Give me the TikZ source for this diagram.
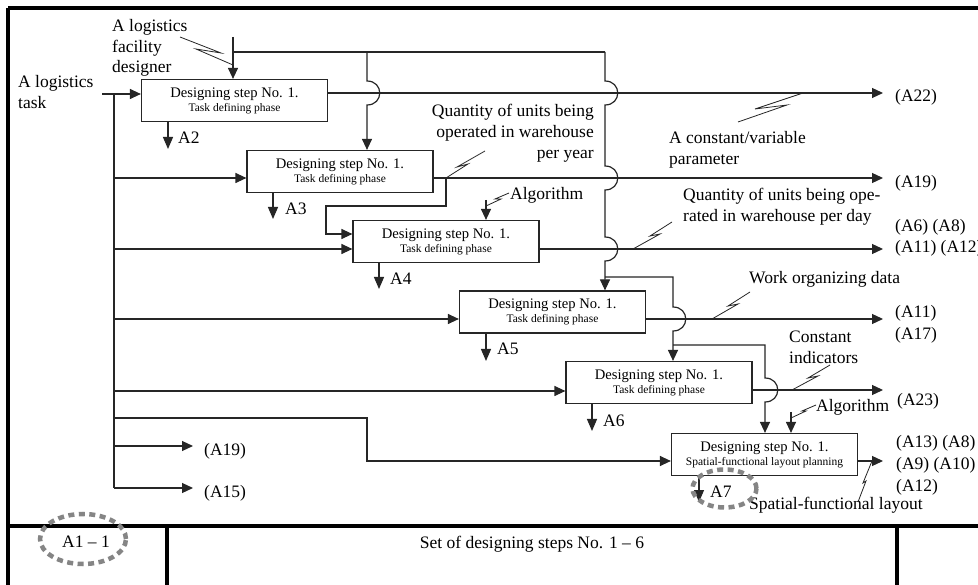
\documentclass[tikz,border=0pt]{standalone}
\usepackage{fontspec}
\setmainfont{Liberation Serif}
\usetikzlibrary{arrows.meta}
\newcommand\steptitle{\fontsize{14.6}{14}\selectfont}
\newcommand\stepsub{\fontsize{11.5}{14}\selectfont}
\begin{document}
\begin{tikzpicture}[x=1pt,y=-1pt,
  ln/.style={line width=1.2pt, draw=black!85},
  arr/.style={ln,-{Triangle[length=11pt,width=10pt]}},
  darr/.style={ln,-{Triangle[length=12pt,width=10pt]}},
  stepbox/.style={draw=black!85, line width=1.2pt, minimum width=186pt, minimum height=42pt, inner sep=0pt, align=center, font=\steptitle},
  lbl/.style={inner sep=0pt, font=\fontsize{17.5}{21}\selectfont, align=left},
  zig/.style={line width=0.8pt, draw=black!85},
  frm/.style={line width=3.4pt, draw=black},
  dashell/.style={draw=black!48, line width=4.5pt, dash pattern=on 6pt off 4.5pt}
]
\clip (0,0) rectangle (978,585);
\fill[white] (0,0) rectangle (978,585);

% frame
\draw[frm] (8,8) -- (995,8);
\draw[frm] (8,8) -- (8,600);
\draw[frm] (8,526) -- (995,526);
\draw[frm] (167,526) -- (167,600);
\draw[frm] (897,526) -- (897,600);

% boxes
\node[stepbox] (b1) at (234.5,100.5) {Designing step No. 1.\\\stepsub Task defining phase};
\node[stepbox] (b2) at (340,171.5) {Designing step No. 1.\\\stepsub Task defining phase};
\node[stepbox] (b3) at (446,241.5) {Designing step No. 1.\\\stepsub Task defining phase};
\node[stepbox] (b4) at (552.5,312) {Designing step No. 1.\\\stepsub Task defining phase};
\node[stepbox] (b5) at (659,382.5) {Designing step No. 1.\\\stepsub Task defining phase};
\node[stepbox] (b6) at (764.5,454.5) {Designing step No. 1.\\\stepsub Spatial-functional layout planning};

% labels
\node[lbl, anchor=west] (task) at (18,92) {A logistics\\task};
\node[lbl, anchor=west, font=\fontsize{17.5}{20.5}\selectfont] (des) at (112,48) {A logistics\\facility\\designer};
\node[lbl, anchor=east, align=right] (qy) at (594,133) {Quantity of units being\\operated in warehouse\\per year};
\node[lbl, anchor=west] (cv) at (669,149.5) {A constant/variable\\parameter};
\node[lbl, anchor=west] (alg1) at (510,195) {Algorithm};
\node[lbl, anchor=west] (qd) at (683,207) {Quantity of units being ope-\\rated in warehouse per day};
\node[lbl, anchor=west] (wo) at (749,279) {Work organizing data};
\node[lbl, anchor=west] (ci) at (789,347) {Constant\\indicators};
\node[lbl, anchor=west] (alg2) at (816,407) {Algorithm};
\node[lbl, anchor=west] (sfl) at (749,505) {Spatial-functional layout};

\node[lbl, anchor=west] (o1) at (895,97) {(A22)};
\node[lbl, anchor=west] (o2) at (895,183) {(A19)};
\node[lbl, anchor=west] (o3) at (895,238) {(A6) (A8)\\(A11) (A12)};
\node[lbl, anchor=west, font=\fontsize{17.5}{22}\selectfont] (o4) at (895,324) {(A11)\\(A17)};
\node[lbl, anchor=west] (o5) at (897,401) {(A23)};
\node[lbl, anchor=west, font=\fontsize{17.5}{22}\selectfont] (o6) at (896,465) {(A13) (A8)\\(A9) (A10)\\(A12)};
\node[lbl, anchor=west] (o7) at (204,451) {(A19)};
\node[lbl, anchor=west] (o8) at (204,493) {(A15)};

\node[lbl, anchor=west] (a2) at (178,138) {A2};
\node[lbl, anchor=west] (a3) at (285,209) {A3};
\node[lbl, anchor=west] (a4) at (390,279) {A4};
\node[lbl, anchor=west] (a5) at (497,349) {A5};
\node[lbl, anchor=west] (a6) at (603,421) {A6};
\node[lbl, anchor=west] (a7) at (710,492) {A7};

\node[lbl] (id) at (86,542) {A1 \textendash{} 1};
\node[lbl] (ttl) at (532,544) {Set of designing steps No. 1 \textendash{} 6};

% input bus
\coordinate (tin) at (102,94);
\coordinate (bustop) at (114,94);
\coordinate (busbot) at (114,488);
\coordinate (t2) at (114,178);
\coordinate (t3) at (114,249);
\coordinate (t4) at (114,319);
\coordinate (t5) at (114,391);
\coordinate (t6) at (114,418);
\coordinate (t7) at (114,446);
\draw[arr] (tin) -- (b1.west |- tin);
\draw[ln] (bustop) -- (busbot);
\draw[arr] (t2) -- (b2.west |- t2);
\draw[arr] (t3) -- (b3.west |- t3);
\draw[arr] (t4) -- (b4.west |- t4);
\draw[arr] (t5) -- (b5.west |- t5);
\coordinate (k1) at (367,418);
\coordinate (k2) at (367,461);
\draw[arr] (t6) -- (k1) -- (k2) -- (b6.west |- k2);
\draw[arr] (t7) -- ([xshift=-11pt]o7.west |- t7);
\draw[arr] (busbot) -- ([xshift=-11pt]o8.west |- busbot);

% controls
\coordinate (c0) at (233,37);
\coordinate (h0) at (233,52);
\coordinate (h1) at (367,52);
\coordinate (h2) at (605,52);
\draw[arr] (c0) -- (b1.north -| c0);
\draw[ln] (h0) -- (h2);
\draw[arr] (h1) -- (367,81) .. controls (384,81) and (384,105) .. (367,105) -- (b2.north -| h1);
\draw[arr] (h2) -- (605,81) .. controls (622,81) and (622,105) .. (605,105)
  -- (605,166) .. controls (622,166) and (622,190) .. (605,190)
  -- (605,237) .. controls (622,237) and (622,261) .. (605,261) -- (b4.north -| h2);
\coordinate (j1) at (605,277);
\coordinate (j2) at (673,277);
\draw[arr] (j1) -- (j2) -- (673,307) .. controls (690,307) and (690,331) .. (673,331) -- (b5.north -| j2);
\coordinate (j3) at (673,345);
\coordinate (j4) at (765,345);
\draw[arr] (j3) -- (j4) -- (765,378) .. controls (782,378) and (782,402) .. (765,402) -- (b6.north -| j4);
\coordinate (g1) at (486,200);
\draw[arr] (g1) -- (b3.north -| g1);
\coordinate (g2) at (791,412);
\draw[arr] (g2) -- (b6.north -| g2);

% outputs
\coordinate (r1) at (327,93);
\draw[arr] (b1.east |- r1) -- ([xshift=-12pt]o1.west |- r1);
\coordinate (r2) at (433,178);
\draw[arr] (b2.east |- r2) -- ([xshift=-12pt]o2.west |- r2);
\coordinate (s1) at (446,178);
\coordinate (s2) at (446,206);
\coordinate (s3) at (326,206);
\coordinate (s4) at (326,234);
\draw[arr] (s1) -- (s2) -- (s3) -- (s4) -- (b3.west |- s4);
\coordinate (r3) at (539,249);
\draw[arr] (b3.east |- r3) -- ([xshift=-12pt]o1.west |- r3);
\coordinate (r4) at (646,319);
\draw[arr] (b4.east |- r4) -- ([xshift=-12pt]o1.west |- r4);
\coordinate (r5) at (752,390);
\draw[arr] (b5.east |- r5) -- ([xshift=-12pt]o1.west |- r5);
\coordinate (r6) at (857,461);
\draw[arr] (b6.east |- r6) -- ([xshift=-12pt]o1.west |- r6);

% mechanisms
\coordinate (m1) at (168,149);
\draw[darr] (b1.south -| m1) -- (m1);
\coordinate (m2) at (273,219);
\draw[darr] (b2.south -| m2) -- (m2);
\coordinate (m3) at (379,289);
\draw[darr] (b3.south -| m3) -- (m3);
\coordinate (m4) at (486,361);
\draw[darr] (b4.south -| m4) -- (m4);
\coordinate (m5) at (592,431);
\draw[darr] (b5.south -| m5) -- (m5);
\coordinate (m6) at (699,502);
\draw[darr] (b6.south -| m6) -- (m6);

% lightning marks
\draw[zig] (180,37) -- (221,53) -- (196,49) -- (233,65);
\draw[zig] (485,151) -- (457,167) -- (468,164) -- (446,178);
\draw[zig] (738,122) -- (787,105) -- (755,109) -- (803,93);
\draw[zig] (509,193) -- (495,199) -- (501,199) -- (486,206);
\draw[zig] (672,222) -- (650,236) -- (660,234) -- (633,249);
\draw[zig] (750,292) -- (728,306) -- (738,304) -- (712,319);
\draw[zig] (830,365) -- (808,378) -- (818,376) -- (792,390);
\draw[zig] (816,405) -- (802,411) -- (806,411) -- (791,418);
\draw[zig] (858,502) -- (866,481) -- (863,483) -- (872,461);

% dashed ellipses
\draw[dashell] (83,539) ellipse [x radius=43pt, y radius=25pt];
\draw[dashell] (724.5,488.5) ellipse [x radius=32pt, y radius=19pt];
\end{tikzpicture}
\end{document}
